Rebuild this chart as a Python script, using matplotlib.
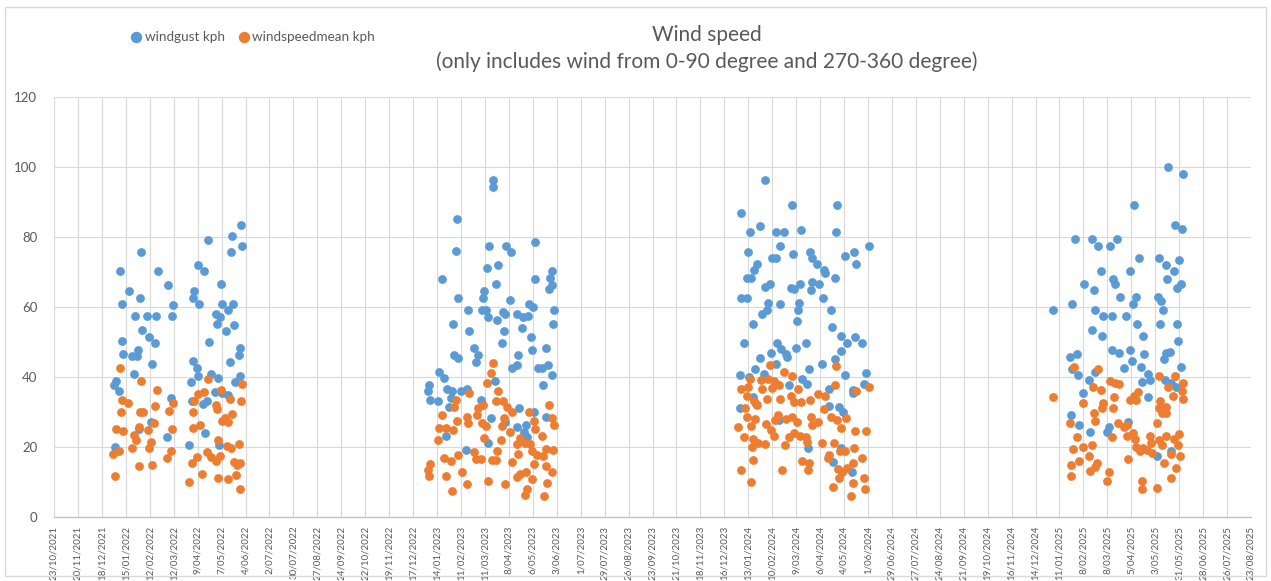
import matplotlib
matplotlib.use("Agg")
import matplotlib.pyplot as plt
import matplotlib.dates as mdates
from matplotlib.patches import Rectangle
import pandas as pd

# ---------------- data ----------------
TITLE = "Wind speed"
SUBTITLE = "(only includes wind from 0-90 degree and 270-360 degree)"
SERIES_NAMES = ["windgust kph", "windspeedmean kph"]

X_START = "2021-10-23"
X_END = "2025-08-23"
TICK_STEP_DAYS = 28
Y_MIN, Y_MAX, Y_STEP = 0, 120, 20

# day offsets are counted from the season start date
SEASON_START = ["2021-12-18", "2022-12-17", "2023-12-16", "2024-12-14"]

# ---- season 1 ----
gust_day_1 = [163, 152, 124, 164, 151, 46, 21, 66, 113, 119, 77, 139, 32, 108, 45, 107, 23, 83, 114, 141,
              153, 148, 39, 53, 63, 82, 133, 138, 135, 155, 145, 47, 55, 62, 23, 125, 25, 35, 42, 41,
              162, 160, 150, 59, 106, 111, 38, 112, 128, 136, 161, 156, 16, 14, 104, 20, 132, 140, 147, 81,
              105, 118, 123, 58, 44, 121, 76, 102, 15, 137]
gust_kph_1 = [83.4, 80.3, 79.3, 77.5, 75.7, 75.8, 70.3, 70.3, 72.2, 70.3, 66.5, 66.8, 64.8, 64.8, 62.8, 62.8,
              61.0, 60.7, 61.0, 61.0, 61.0, 59.2, 57.4, 57.4, 57.4, 57.4, 58.0, 57.3, 55.2, 54.9, 53.3, 53.5,
              51.6, 49.8, 50.4, 50.2, 46.8, 46.0, 47.8, 46.2, 48.3, 46.5, 44.5, 43.7, 44.8, 42.7, 40.9, 40.3,
              41.0, 39.7, 40.3, 38.8, 39.0, 37.9, 38.8, 36.1, 35.9, 35.5, 35.0, 34.1, 33.1, 32.4, 33.1, 27.1,
              25.3, 24.1, 23.0, 20.6, 20.1, 20.6]
mean_day_1 = [21, 46, 124, 164, 65, 139, 113, 120, 23, 31, 83, 150, 163, 62, 78, 108, 133, 22, 45, 48,
              107, 135, 152, 144, 140, 148, 61, 43, 54, 82, 16, 25, 37, 106, 115, 40, 35, 58, 55, 81,
              76, 13, 20, 136, 146, 151, 160, 123, 128, 133, 138, 111, 105, 117, 155, 162, 158, 44, 59, 15,
              102, 136, 148, 157, 162]
mean_kph_1 = [42.7, 39.0, 39.4, 38.1, 36.3, 36.3, 35.3, 35.7, 33.4, 32.7, 32.6, 33.7, 33.2, 31.8, 30.5, 33.1,
              32.2, 30.2, 30.1, 30.2, 30.1, 30.9, 29.6, 28.4, 27.5, 27.2, 27.0, 25.8, 24.8, 25.1, 25.1, 24.7,
              23.6, 25.5, 26.3, 22.0, 19.9, 21.5, 19.8, 19.0, 16.8, 18.2, 19.0, 22.0, 20.4, 19.9, 21.0, 18.7,
              17.3, 16.1, 17.4, 17.1, 15.4, 12.3, 15.8, 15.4, 14.9, 14.6, 14.8, 11.9, 10.1, 11.3, 10.8, 12.0,
              8.2]

# ---- season 2 ----
gust_day_2 = [94, 93, 51, 50, 89, 109, 115, 142, 86, 99, 34, 143, 162, 160, 163, 159, 97, 83, 82, 52,
              113, 135, 140, 64, 80, 85, 88, 98, 105, 108, 122, 128, 134, 165, 164, 47, 65, 106, 127, 104,
              138, 139, 155, 71, 76, 74, 48, 52, 123, 116, 122, 146, 151, 158, 162, 152, 30, 36, 96, 19,
              18, 20, 29, 40, 46, 56, 63, 44, 42, 79, 124, 141, 156, 91, 107, 121, 132, 130, 133, 39,
              88, 62]
gust_kph_2 = [96.4, 94.5, 85.2, 76.2, 77.6, 77.6, 75.8, 78.6, 71.1, 72.1, 68.2, 68.2, 70.3, 68.4, 66.5, 65.3,
              66.6, 64.8, 62.7, 62.7, 62.1, 61.0, 60.2, 59.1, 59.2, 59.1, 57.3, 56.3, 58.7, 58.0, 58.0, 57.1,
              57.4, 59.1, 55.2, 55.2, 53.3, 53.3, 54.2, 49.8, 51.6, 47.8, 48.3, 48.3, 46.4, 44.5, 46.4, 45.5,
              46.4, 42.6, 43.6, 42.6, 42.6, 43.6, 40.6, 37.9, 41.6, 39.7, 38.9, 37.9, 36.2, 33.6, 33.2, 36.6,
              36.2, 36.2, 36.8, 34.1, 31.5, 33.4, 31.3, 30.0, 28.8, 28.4, 27.2, 25.8, 26.4, 24.3, 22.9, 23.1,
              21.2, 19.3]
mean_day_2 = [93, 91, 86, 99, 65, 97, 105, 50, 48, 159, 76, 82, 110, 116, 136, 34, 63, 75, 106, 162,
              51, 64, 80, 104, 141, 165, 85, 30, 38, 47, 113, 142, 29, 83, 103, 125, 122, 131, 151, 137,
              156, 164, 98, 123, 139, 145, 152, 71, 53, 36, 44, 74, 79, 92, 97, 116, 20, 18, 19, 39,
              57, 63, 88, 108, 141, 156, 162, 132, 121, 139, 157, 133, 131, 153, 46, 125]
mean_kph_2 = [44.2, 41.3, 38.3, 36.2, 35.4, 33.2, 33.2, 33.5, 31.5, 32.2, 31.3, 32.2, 31.5, 30.0, 30.0, 29.1,
              28.6, 29.1, 28.4, 28.4, 27.5, 26.9, 27.0, 26.1, 27.4, 26.4, 26.0, 25.5, 25.5, 25.0, 24.5, 25.3,
              22.2, 22.6, 22.2, 22.7, 20.8, 21.2, 23.3, 20.8, 19.4, 19.1, 18.9, 18.2, 18.9, 17.7, 17.4, 18.6,
              17.7, 16.9, 16.0, 16.6, 16.6, 16.3, 16.3, 15.8, 15.3, 13.6, 11.7, 11.9, 12.8, 9.5, 10.4, 9.5,
              15.3, 14.7, 13.0, 13.0, 11.6, 10.8, 9.7, 8.2, 6.5, 6.2, 7.6, 12.3]

# ---- season 3 ----
gust_day_3 = [48, 20, 79, 132, 42, 30, 61, 70, 90, 131, 65, 169, 28, 80, 100, 102, 56, 60, 108, 141,
              152, 154, 38, 35, 116, 118, 26, 31, 130, 47, 53, 89, 103, 111, 78, 82, 101, 19, 27, 115,
              51, 65, 87, 44, 50, 86, 125, 34, 85, 126, 136, 143, 153, 161, 137, 23, 62, 66, 55, 72,
              84, 96, 73, 42, 60, 130, 36, 99, 114, 166, 141, 18, 46, 91, 97, 29, 163, 150, 151, 123,
              18, 34, 37, 122, 134, 139, 76, 64, 137, 98, 127, 149]
gust_kph_3 = [96.5, 87.0, 89.1, 89.1, 83.2, 81.6, 81.6, 81.6, 82.1, 81.6, 77.6, 77.6, 75.8, 75.2, 75.9, 74.2,
              74.0, 74.0, 72.3, 74.6, 75.8, 72.3, 72.3, 70.6, 70.6, 69.7, 68.3, 68.3, 68.3, 65.7, 66.6, 66.6,
              67.1, 66.6, 65.5, 65.1, 64.9, 62.8, 62.8, 62.8, 61.1, 60.9, 61.1, 58.1, 59.2, 59.2, 59.2, 55.3,
              56.0, 54.5, 51.8, 49.9, 51.5, 49.9, 47.4, 49.9, 49.8, 48.2, 47.0, 46.7, 48.4, 49.9, 45.8, 45.6,
              43.7, 45.3, 42.3, 42.3, 43.8, 41.3, 40.6, 40.7, 41.0, 39.6, 38.0, 40.1, 38.2, 36.5, 35.4, 36.6,
              31.3, 34.4, 32.5, 31.8, 31.4, 30.1, 37.7, 27.8, 19.9, 19.9, 15.9, 13.0]
mean_day_3 = [53, 131, 70, 79, 30, 43, 51, 58, 64, 86, 28, 19, 44, 56, 130, 154, 169, 27, 35, 38,
              50, 65, 78, 81, 90, 100, 110, 118, 116, 24, 26, 36, 31, 16, 23, 49, 59, 63, 72, 79,
              85, 55, 58, 76, 82, 88, 95, 101, 103, 109, 125, 132, 142, 137, 153, 166, 34, 39, 47, 32,
              71, 97, 114, 128, 135, 141, 152, 123, 121, 91, 99, 98, 33, 19, 31, 68, 133, 138, 144, 150,
              161, 163, 151, 164, 127, 134, 148]
mean_kph_3 = [43.6, 43.1, 41.5, 40.3, 39.6, 39.2, 39.6, 38.9, 37.9, 36.7, 37.2, 36.7, 36.6, 36.9, 37.7, 36.1,
              37.2, 34.7, 33.3, 32.1, 33.7, 33.9, 34.6, 33.0, 33.0, 33.5, 35.3, 34.7, 30.9, 31.1, 28.7, 28.2,
              26.0, 25.7, 23.0, 26.6, 27.8, 29.2, 28.2, 28.7, 27.1, 25.0, 23.2, 23.0, 24.2, 23.3, 23.0, 28.7,
              26.3, 27.3, 28.7, 27.8, 28.4, 25.4, 24.7, 24.7, 22.3, 21.3, 21.0, 20.0, 20.6, 21.6, 21.1, 21.1,
              18.8, 18.8, 19.9, 17.8, 16.9, 16.2, 15.4, 13.6, 16.4, 13.4, 10.2, 13.4, 13.7, 13.0, 14.0, 15.4,
              16.9, 11.2, 9.9, 8.1, 8.6, 11.2, 6.0]

# ---- season 4 ----
gust_day_4 = [155, 172, 115, 163, 171, 46, 66, 73, 87, 95, 121, 144, 152, 168, 162, 77, 111, 91, 93, 57,
              68, 154, 170, 165, 99, 118, 114, 143, 147, 20, 43, 149, 69, 79, 90, 106, 119, 145, 166, 66,
              78, 126, 167, 89, 98, 110, 127, 153, 157, 150, 40, 49, 113, 43, 50, 70, 103, 123, 132, 170,
              63, 125, 134, 151, 159, 164, 56, 131, 42, 51, 64, 83, 86, 108, 142, 159]
gust_kph_4 = [100.1, 98.2, 89.1, 83.5, 82.3, 79.4, 79.4, 77.5, 77.5, 79.4, 74.0, 74.0, 72.2, 73.5, 70.4, 70.4,
              70.4, 68.2, 66.6, 66.6, 64.9, 68.2, 66.6, 65.4, 62.9, 62.9, 60.9, 62.9, 61.9, 59.1, 61.0, 59.2,
              59.2, 57.4, 57.4, 57.4, 55.2, 55.2, 55.2, 53.4, 51.7, 51.7, 50.5, 47.9, 47.0, 47.9, 46.6, 47.0,
              47.2, 45.3, 45.8, 46.7, 44.6, 42.4, 40.8, 41.5, 42.7, 42.9, 41.0, 42.9, 39.1, 38.7, 39.1, 39.1,
              38.5, 37.3, 35.5, 34.4, 29.2, 26.5, 24.5, 24.3, 25.7, 27.3, 17.6, 18.8]
mean_day_4 = [20, 45, 73, 67, 77, 56, 79, 78, 68, 69, 40, 49, 44, 56, 66, 51, 63, 41, 42, 64,
              69, 72, 86, 83, 87, 93, 98, 92, 91, 90, 97, 103, 107, 111, 115, 120, 118, 114, 116, 118,
              122, 126, 130, 134, 135, 136, 108, 124, 125, 142, 144, 155, 146, 144, 153, 148, 152, 142, 144, 148,
              153, 162, 168, 167, 159, 169, 163, 172, 171, 161, 172, 150, 164, 159, 107]
mean_kph_4 = [34.4, 42.9, 42.5, 37.3, 36.3, 32.8, 32.8, 31.1, 29.9, 27.6, 26.8, 22.8, 19.4, 20.0, 20.7, 16.2,
              17.5, 14.8, 11.9, 13.3, 14.5, 15.6, 12.9, 10.4, 39.0, 38.4, 38.2, 34.4, 31.1, 23.0, 27.0, 25.9,
              26.4, 33.5, 34.6, 35.8, 33.5, 24.0, 22.3, 20.2, 18.8, 19.9, 19.2, 23.3, 21.2, 18.5, 16.7, 10.4,
              8.1, 8.3, 40.3, 37.3, 33.3, 31.1, 31.4, 29.9, 29.8, 27.0, 22.1, 20.7, 23.2, 22.3, 23.7, 20.7,
              18.1, 17.5, 40.3, 38.5, 36.1, 34.6, 33.7, 15.6, 14.2, 11.2, 23.2]

gust_days = [gust_day_1, gust_day_2, gust_day_3, gust_day_4]
gust_kph = [gust_kph_1, gust_kph_2, gust_kph_3, gust_kph_4]
mean_days = [mean_day_1, mean_day_2, mean_day_3, mean_day_4]
mean_kph = [mean_kph_1, mean_kph_2, mean_kph_3, mean_kph_4]


def to_dates(starts, day_lists):
    out = []
    for s, days in zip(starts, day_lists):
        base = pd.Timestamp(s)
        out.extend(base + pd.to_timedelta(days, unit="D"))
    return out


def flat(lists):
    return [v for l in lists for v in l]


gust_x = to_dates(SEASON_START, gust_days)
gust_y = flat(gust_kph)
mean_x = to_dates(SEASON_START, mean_days)
mean_y = flat(mean_kph)

# ---------------- drawing ----------------
plt.rcParams["font.family"] = ["Lato", "DejaVu Sans"]
TXT = "#595959"
BLUE = "#5B9BD5"
ORANGE = "#ED7D31"

W, H = 1271, 581
fig = plt.figure(figsize=(W / 100, H / 100), dpi=100)
fig.patch.set_facecolor("white")
fig.add_artist(Rectangle((5 / W, 5 / H), (W - 10) / W, (H - 12) / H, transform=fig.transFigure,
                         fill=False, edgecolor="#D9D9D9", linewidth=1.0))

L, R, T, B = 54, 1251, 97.3, 517.3
ax = fig.add_axes([L / W, 1 - B / H, (R - L) / W, (B - T) / H])

ms = 40
ax.scatter(gust_x, gust_y, s=ms, color=BLUE, linewidths=0, zorder=3, label=SERIES_NAMES[0])
ax.scatter(mean_x, mean_y, s=ms, color=ORANGE, linewidths=0, zorder=4, label=SERIES_NAMES[1])

ticks = pd.date_range(X_START, X_END, freq=f"{TICK_STEP_DAYS}D")
ax.set_xlim(mdates.date2num(ticks[0]), mdates.date2num(ticks[-1]))
ax.set_xticks(mdates.date2num(ticks))
ax.set_xticklabels([f"{d.day}/{d.month:02d}/{d.year}" for d in ticks], rotation=90,
                   fontsize=7, color=TXT)
ax.set_ylim(Y_MIN, Y_MAX)
ax.set_yticks(range(Y_MIN, Y_MAX + 1, Y_STEP))
ax.tick_params(axis="y", labelsize=9.5, colors=TXT, length=0, pad=12)
ax.tick_params(axis="x", length=0, pad=6)
ax.grid(True, color="#D9D9D9", linewidth=0.8, zorder=0)
ax.set_axisbelow(True)
for side in ["left", "right", "top"]:
    ax.spines[side].set_visible(False)
ax.spines["bottom"].set_color("#BFBFBF")
ax.spines["bottom"].set_linewidth(0.9)

fig.text(707 / W, 1 - 35 / H, TITLE, ha="center", va="center", fontsize=15, color=TXT)
fig.text(707 / W, 1 - 62 / H, SUBTITLE, ha="center", va="center", fontsize=15, color=TXT)

fig.legend(loc="center left", bbox_to_anchor=(124 / W, 1 - 37 / H), ncol=2, frameon=False,
           fontsize=9.7, labelcolor=TXT, handletextpad=0.25, columnspacing=1.0, markerscale=1.3,
           handlelength=0.8, borderpad=0)

fig.savefig("out.png", dpi=100, facecolor="white")
